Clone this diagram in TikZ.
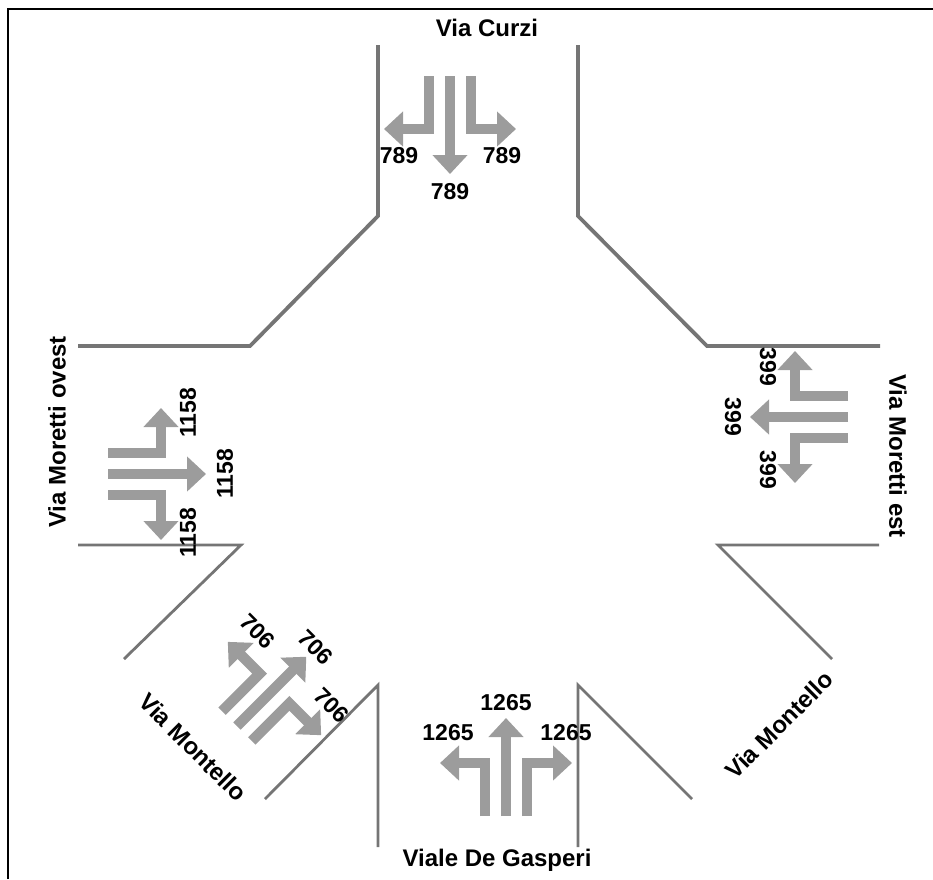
\documentclass[tikz,border=0pt]{standalone}
\usepackage{fontspec}
\setmainfont{Liberation Sans}
\usetikzlibrary{arrows.meta}

\definecolor{lanegray}{HTML}{9C9C9C}
\definecolor{roadgray}{HTML}{757575}

\begin{document}
\begin{tikzpicture}[
    x=1pt, y=-1pt,
    font=\fontsize{23}{25}\selectfont\bfseries,
    roadname/.style={font=\fontsize{24}{26}\selectfont\bfseries},
    road/.style={draw=roadgray, line width=3.8pt},
    roadthin/.style={draw=roadgray, line width=2.8pt},
    lane/.style={draw=lanegray, line width=10.5pt, -{Triangle[length=19pt, width=34pt]}},
    lanes/.pic={
        \draw[lane] (0,-21) -- (53,-21) -- (53,-66);
        \draw[lane] (0,0) -- (98,0);
        \draw[lane] (0,21) -- (53,21) -- (53,66);
    }
]
\useasboundingbox (0,0) rectangle (933,879);
\draw[black, line width=2.6pt] (8,879) -- (8,9) -- (933,9);

% road edges
\draw[road] (378,45) -- (378,216) -- (250,346) -- (78,346);
\draw[road] (578,45) -- (578,216) -- (707,346) -- (880,346);
\draw[roadthin] (78,545) -- (241,545) -- (124,659);
\draw[roadthin] (879,545) -- (718,545) -- (832,659);
\draw[roadthin] (265,799) -- (378,685) -- (378,847);
\draw[roadthin] (578,847) -- (578,685) -- (692,799);

% lane arrows
\foreach \px/\py/\ang in {450/76/-90, 108/474/0, 848/417/180, 506/816/90, 237/726/45}
  \pic[rotate=\ang] at (\px,\py) {lanes};

% street names
\node[roadname] (curzi) at (487,28) {Via Curzi};
\node[roadname, rotate=90] (ovest) at (57,432) {Via Moretti ovest};
\node[roadname, rotate=-90] (est) at (898,456) {Via Moretti est};
\node[roadname] (gasperi) at (497,860) {Viale De Gasperi};
\node[roadname, rotate=-45] (montelloa) at (193,747) {Via Montello};
\node[roadname, rotate=45] (montellob) at (779,725) {Via Montello};

% counts
\node (c1) at (399,156) {789};
\node (c2) at (450,192) {789};
\node (c3) at (502,156) {789};
\node[rotate=90] (w1) at (188,413) {1158};
\node[rotate=90] (w2) at (225,474) {1158};
\node[rotate=90] (w3) at (188,533) {1158};
\node[rotate=-90] (e1) at (768,367) {399};
\node[rotate=-90] (e2) at (733,417) {399};
\node[rotate=-90] (e3) at (768,470) {399};
\node (s1) at (448,733) {1265};
\node (s2) at (506,703) {1265};
\node (s3) at (566,733) {1265};
\node[rotate=-45] (m1) at (258,631) {706};
\node[rotate=-45] (m2) at (316,647) {706};
\node[rotate=-45] (m3) at (332,705) {706};
\end{tikzpicture}
\end{document}
